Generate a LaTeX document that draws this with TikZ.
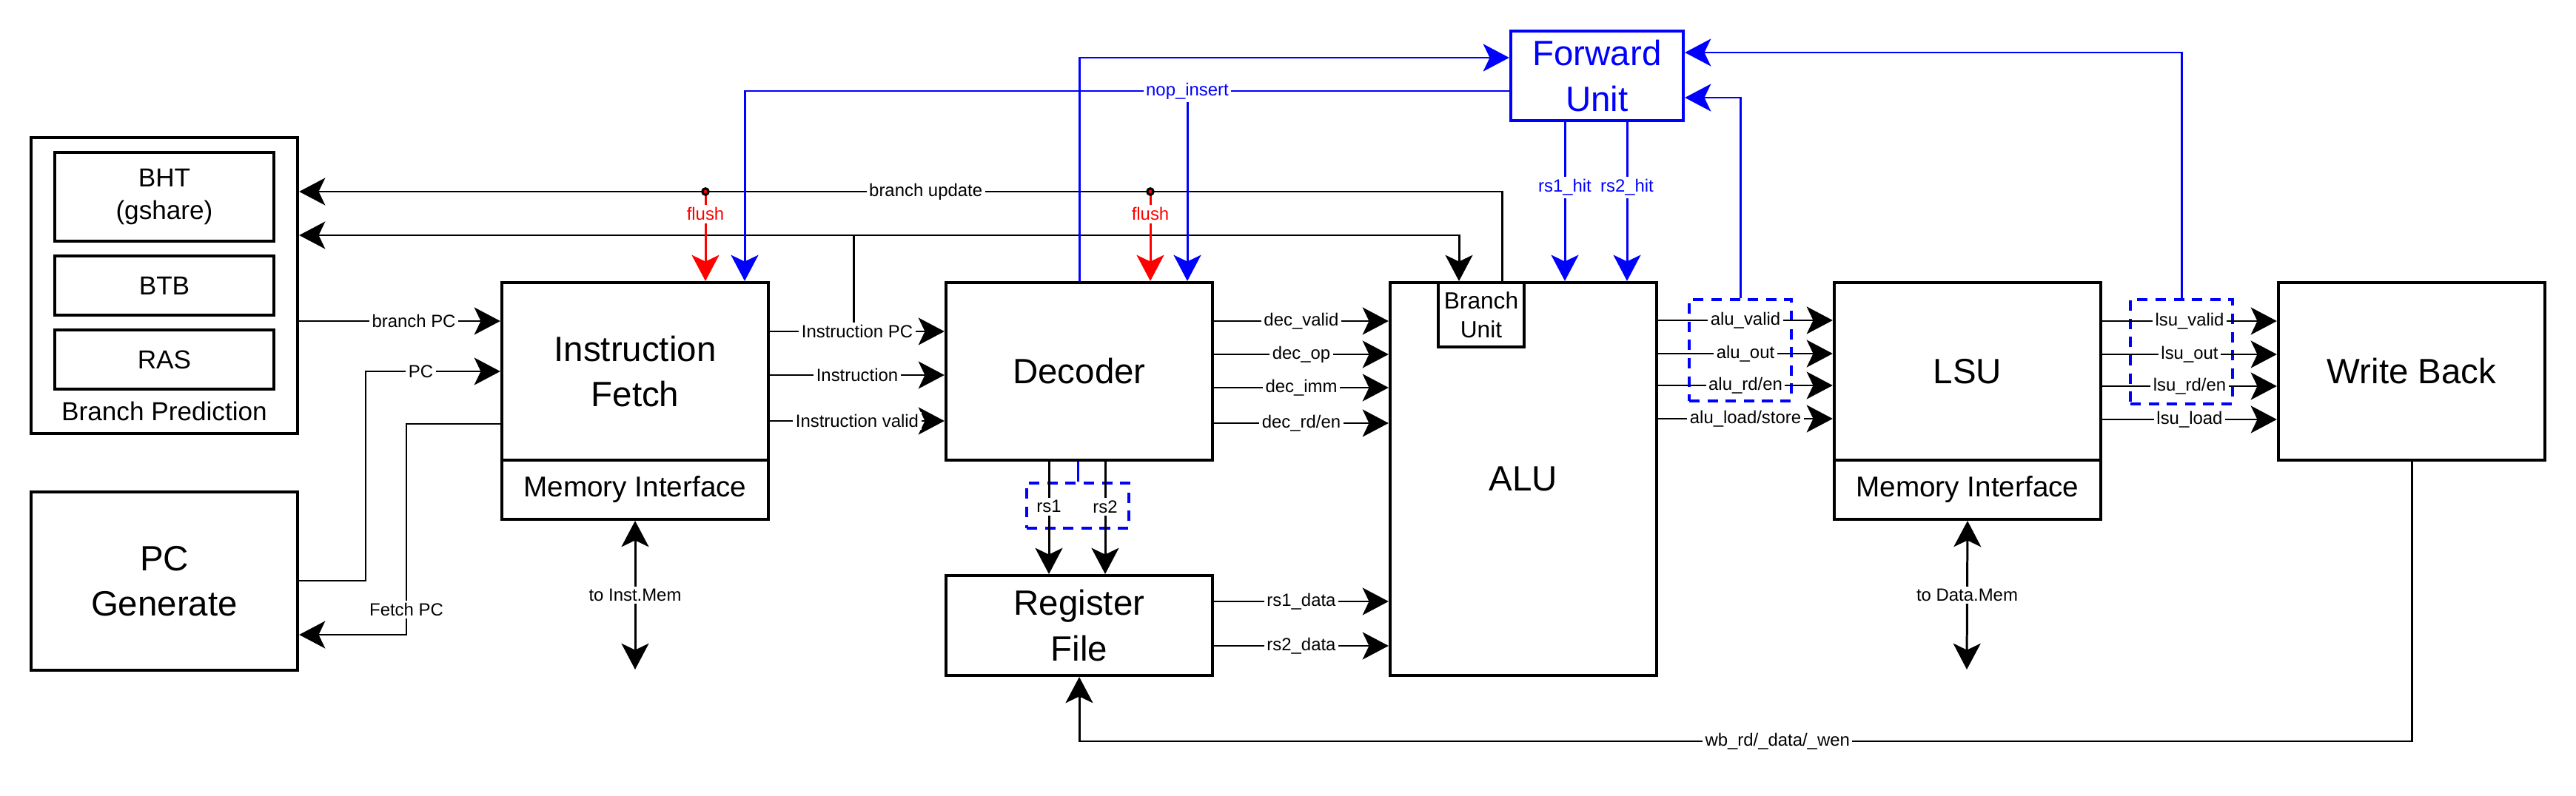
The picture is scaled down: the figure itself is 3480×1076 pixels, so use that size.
\documentclass[tikz,border=0pt]{standalone}
\usepackage{fontspec}
\setmainfont{Liberation Sans}
\usetikzlibrary{arrows.meta}

\tikzset{
  cls/.tip={Stealth[length=10pt,width=10.5pt,inset=2.5pt]},
  blk/.style={draw, line width=1.15pt, inner sep=0pt, align=center,
    minimum width=3.6cm, minimum height=2.4cm,
    font=\fontsize{13.5}{17.5}\selectfont},
  meminf/.style={blk, minimum height=0.8cm, font=\fontsize{11}{13}\selectfont},
  sub/.style={blk, minimum width=2.96cm, minimum height=0.8cm,
    font=\fontsize{10}{12.5}\selectfont},
  sig/.style={line width=0.85pt, -cls},
  fw/.style={blue, line width=0.85pt},
  lbl/.style={fill=white, inner sep=1pt, font=\fontsize{6.8}{8}\selectfont},
  grp/.style={draw=blue, line width=1pt, dash pattern=on 4pt off 3pt,
    minimum width=1.38cm, inner sep=0pt},
  tap/.style={draw=black, fill=red, line width=0.9pt}
}

\begin{document}
\begin{tikzpicture}[x=0.01cm, y=-0.01cm]
  \useasboundingbox (0,0) rectangle (3480,1076);

  % branch prediction
  \node[blk, minimum height=4cm] (bp) at (222,386) {};
  \node[sub, minimum height=1.2cm] (bht) at (222,266) {BHT\\(gshare)};
  \node[sub] (btb) at (222,386) {BTB};
  \node[sub] (ras) at (222,486) {RAS};
  \node[font=\fontsize{10}{12}\selectfont] (bpname) at (222,556) {Branch Prediction};

  % pc generate
  \node[blk, minimum height=2.41cm] (pcgen) at (222,785.5) {PC\\Generate};

  %---- pipeline stages ----
  \node[blk] (ifu) at (858,502) {Instruction\\Fetch};
  \node[meminf] (ifmem) at (858,662) {Memory Interface};
  \node[blk] (dec) at (1458,502) {Decoder};
  \node[blk, minimum height=1.35cm] (rf) at (1458,845.5) {Register\\File};
  \node[blk, minimum height=5.31cm] (alu) at (2058,647.5) {ALU};
  \node[blk, minimum width=1.16cm, minimum height=0.87cm,
    font=\fontsize{9}{11}\selectfont] (bu) at (2001,425.5) {Branch\\Unit};
  \node[blk] (lsu) at (2658,502) {LSU};
  \node[meminf] (lsumem) at (2658,662) {Memory Interface};
  \node[blk] (wb) at (3258,502) {Write Back};
  \node[blk, blue, minimum width=2.33cm, minimum height=1.21cm] (fwd) at (2157.5,102.5) {Forward\\Unit};

  % forwarding groups
  \node[grp, minimum height=0.61cm] (decgrp) at (1456,683.5) {};
  \node[grp, minimum height=1.37cm] (alugrp) at (2351,473.5) {};
  \node[grp, minimum height=1.41cm] (lsugrp) at (2947,475.5) {};

  % memory ends
  \coordinate (imem) at (858,905);
  \coordinate (dmem) at (2657,905);

  %---- fetch side ----
  \draw[sig] (bp.east |- 0,434) -- node[lbl, pos=0.57]{branch PC} (ifu.west |- 0,434);
  \draw[sig] (pcgen.east |- 0,785) -- (494,785) -- (494,502)
    -- node[lbl, pos=0.41]{PC} (ifu.west |- 0,502);
  \draw[sig] (ifu.west |- 0,573) -- (549,573) -- node[lbl, pos=0.88]{Fetch PC} (549,858)
    -- (pcgen.east |- 0,858);
  \draw[sig, cls-cls] (ifmem.south) -- node[lbl]{to Inst.Mem} (imem);

  % instruction pc back to prediction and branch unit
  \coordinate (ipc) at (1153,448);
  \draw[line width=0.85pt] (ipc) -- (ipc |- 0,318) coordinate (ipcup);
  \draw[sig] (ipcup) -- (bp.east |- ipcup);
  \draw[sig] (ipcup) -- (1971,318) -- (bu.north -| 1971,0);

  \foreach \y/\t in {448/{Instruction PC}, 507/{Instruction}, 569/{Instruction valid}}
    \draw[sig] (ifu.east |- 0,\y) -- node[lbl]{\t} (dec.west |- 0,\y);

  % branch update + flush
  \draw[sig] (alu.north -| 2029,0) -- (2029,259)
    -- node[lbl, pos=0.479]{branch update} (bp.east |- 0,259);
  \coordinate (fl1) at (953,259);
  \coordinate (fl2) at (1554,259);
  \draw[sig, red] (fl1) -- node[lbl, text=red, pos=0.25]{flush} (ifu.north -| fl1);
  \draw[sig, red] (fl2) -- node[lbl, text=red, pos=0.25]{flush} (dec.north -| fl2);
  \path[tap] (fl1) circle (1.2pt);
  \path[tap] (fl2) circle (1.2pt);

  %---- forward unit ----
  \draw[fw, -cls] (dec.north) -- (dec.north |- 0,78) -- (fwd.west |- 0,78);
  \draw[fw, -cls] (fwd.west |- 0,123) -- (1006,123) -- (ifu.north -| 1006,0);
  \draw[fw, -cls] (1604,123) -- (dec.north -| 1604,0);
  \node[lbl, text=blue] (nop) at (1604,123) {nop\_insert};
  \draw[fw, -cls] (fwd.south -| 2114,0) -- node[lbl, text=blue, pos=0.41]{rs1\_hit} (alu.north -| 2114,0);
  \draw[fw, -cls] (fwd.south -| 2198,0) -- node[lbl, text=blue, pos=0.41]{rs2\_hit} (alu.north -| 2198,0);
  \draw[fw, -cls] (alugrp.north) -- (alugrp.north |- 0,132) -- (fwd.east |- 0,132);
  \draw[fw, -cls] (lsugrp.north) -- (lsugrp.north |- 0,71) -- (fwd.east |- 0,71);
  \draw[fw] (dec.south -| decgrp.north) -- (decgrp.north);

  %---- decode / execute ----
  \foreach \y/\t in {434/{dec\_valid}, 479/{dec\_op}, 524/{dec\_imm}, 572/{dec\_rd/en}}
    \draw[sig] (dec.east |- 0,\y) -- node[lbl]{\t} (alu.west |- 0,\y);

  \draw[sig] (dec.south -| 1417,0) -- node[lbl, pos=0.4]{rs1} (rf.north -| 1417,0);
  \draw[sig] (dec.south -| 1493,0) -- node[lbl, pos=0.4]{rs2} (rf.north -| 1493,0);

  \foreach \y/\t in {813/{rs1\_data}, 873/{rs2\_data}}
    \draw[sig] (rf.east |- 0,\y) -- node[lbl]{\t} (alu.west |- 0,\y);

  \foreach \y/\t in {433/{alu\_valid}, 478/{alu\_out}, 521/{alu\_rd/en}, 566/{alu\_load/store}}
    \draw[sig] (alu.east |- 0,\y) -- node[lbl]{\t} (lsu.west |- 0,\y);

  \foreach \y/\t in {434/{lsu\_valid}, 479/{lsu\_out}, 522/{lsu\_rd/en}, 567/{lsu\_load}}
    \draw[sig] (lsu.east |- 0,\y) -- node[lbl]{\t} (wb.west |- 0,\y);

  \draw[sig, cls-cls] (lsumem.south) -- node[lbl]{to Data.Mem} (dmem);

  % write back
  \draw[sig] (wb.south) -- (wb.south |- 0,1002)
    -- node[lbl, pos=0.476]{wb\_rd/\_data/\_wen} (rf.south |- 0,1002) -- (rf.south);
\end{tikzpicture}
\end{document}
